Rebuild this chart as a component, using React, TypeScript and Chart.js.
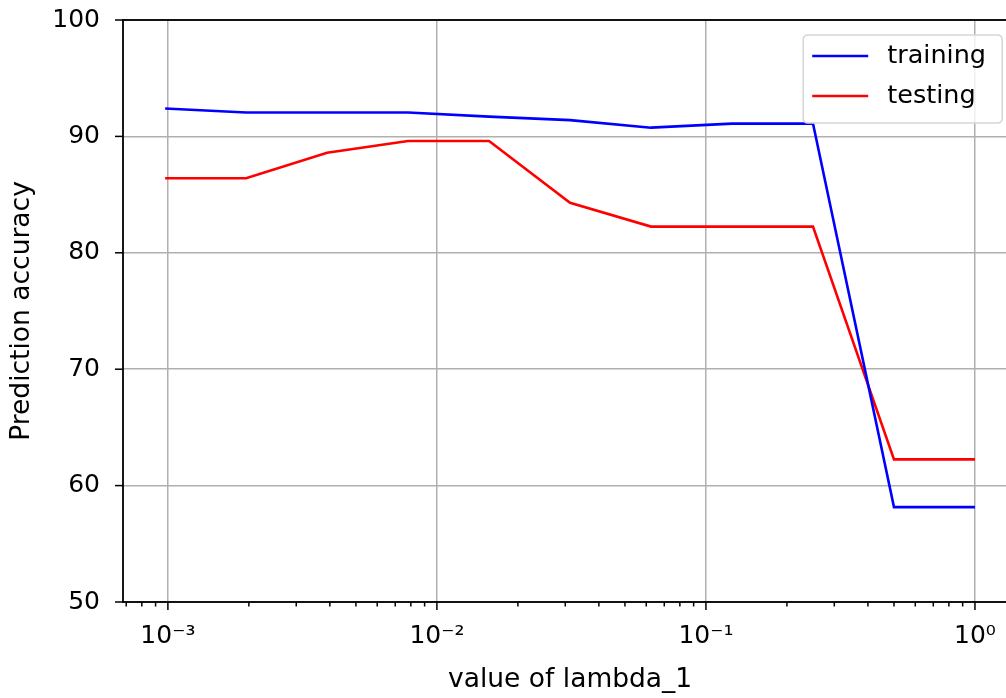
import React, { useEffect, useRef } from 'react';
import { Chart, registerables } from 'chart.js';

Chart.register(...registerables);

// ---- data ----
const lambdas = [0.0009765625, 0.001953125, 0.00390625, 0.0078125, 0.015625, 0.03125, 0.0625, 0.125, 0.25, 0.5, 1];
const training = [92.4, 92.05, 92.05, 92.05, 91.7, 91.4, 90.75, 91.1, 91.1, 58.15, 58.15];
const testing = [86.4, 86.4, 88.6, 89.6, 89.6, 84.3, 82.25, 82.25, 82.25, 62.25, 62.25];
const seriesNames = ['training', 'testing'];
const seriesColors = ['#0000ff', '#ff0000'];
const majorExponents = [-3, -2, -1, 0];
const xTickLabels = ['10⁻³', '10⁻²', '10⁻¹', '10⁰'];
const yTicks = [50, 60, 70, 80, 90, 100];
const xMin = 0.000681;
const xMax = 1.4355;
const yMin = 50;
const yMax = 100;

const CANVAS_W = 1040;
const CANVAS_H = 698;
const FONT = 'DejaVu Sans';
const FS = 25;
const TITLE_FS = 26.5;
const LEGEND_FS = 25.5;

function isMajor(v: number) {
  const l = Math.log10(v);
  return Math.abs(l - Math.round(l)) < 1e-9;
}

function zeroPad(s: any) {
  s.paddingTop = 0;
  s.paddingBottom = 0;
  s.paddingLeft = 0;
  s.paddingRight = 0;
}

function roundRectPath(ctx: CanvasRenderingContext2D, x: number, y: number, w: number, h: number, r: number) {
  ctx.beginPath();
  ctx.moveTo(x + r, y);
  ctx.lineTo(x + w - r, y);
  ctx.quadraticCurveTo(x + w, y, x + w, y + r);
  ctx.lineTo(x + w, y + h - r);
  ctx.quadraticCurveTo(x + w, y + h, x + w - r, y + h);
  ctx.lineTo(x + r, y + h);
  ctx.quadraticCurveTo(x, y + h, x, y + h - r);
  ctx.lineTo(x, y + r);
  ctx.quadraticCurveTo(x, y, x + r, y);
  ctx.closePath();
}

const framePlugin = {
  id: 'frame',
  afterDatasetsDraw(chart: any) {
    const { ctx, chartArea: a, scales } = chart;
    ctx.save();
    ctx.strokeStyle = '#000';
    ctx.lineWidth = 1.5;
    const xs = scales.x;
    xs.ticks.forEach((t: any) => {
      const px = xs.getPixelForValue(t.value);
      const len = isMajor(t.value) ? 8 : 4.5;
      ctx.beginPath();
      ctx.moveTo(px, a.bottom);
      ctx.lineTo(px, a.bottom + len);
      ctx.stroke();
    });
    const ys = scales.y;
    ys.ticks.forEach((t: any) => {
      const py = ys.getPixelForValue(t.value);
      ctx.beginPath();
      ctx.moveTo(a.left, py);
      ctx.lineTo(a.left - 8, py);
      ctx.stroke();
    });
    ctx.lineWidth = 1.8;
    ctx.strokeRect(a.left, a.top, a.right - a.left, a.bottom - a.top);
    ctx.restore();
  },
  afterDraw(chart: any) {
    const { ctx, chartArea: a } = chart;
    const w = 199;
    const h = 88;
    const x0 = a.right - 15 - w;
    const y0 = a.top + 15;
    ctx.save();
    roundRectPath(ctx, x0, y0, w, h, 5);
    ctx.fillStyle = 'rgba(255,255,255,0.8)';
    ctx.fill();
    ctx.strokeStyle = '#d6d6d6';
    ctx.lineWidth = 1.5;
    ctx.stroke();
    chart.data.datasets.forEach((ds: any, i: number) => {
      const cy = y0 + 21 + i * 40;
      ctx.beginPath();
      ctx.moveTo(x0 + 9, cy);
      ctx.lineTo(x0 + 65, cy);
      ctx.strokeStyle = ds.borderColor;
      ctx.lineWidth = 2.6;
      ctx.stroke();
      ctx.fillStyle = '#000';
      ctx.font = `${LEGEND_FS}px "${FONT}"`;
      ctx.textBaseline = 'middle';
      ctx.textAlign = 'left';
      ctx.fillText(ds.label, x0 + 84, cy);
    });
    ctx.restore();
  },
};

export default function App() {
  const ref = useRef<HTMLCanvasElement | null>(null);

  useEffect(() => {
    if (!ref.current) return;
    const chart = new Chart(ref.current, {
      type: 'line',
      data: {
        datasets: [
          {
            label: seriesNames[0],
            data: lambdas.map((x, i) => ({ x, y: training[i] })),
            borderColor: seriesColors[0],
            backgroundColor: seriesColors[0],
            borderWidth: 2.6,
            pointRadius: 0,
            tension: 0,
          },
          {
            label: seriesNames[1],
            data: lambdas.map((x, i) => ({ x, y: testing[i] })),
            borderColor: seriesColors[1],
            backgroundColor: seriesColors[1],
            borderWidth: 2.6,
            pointRadius: 0,
            tension: 0,
          },
        ],
      },
      options: {
        animation: false,
        responsive: false,
        devicePixelRatio: 1,
        layout: { padding: { left: 0, top: 20, right: CANVAS_W - 1017.2, bottom: 0 } },
        plugins: { legend: { display: false }, tooltip: { enabled: false } },
        scales: {
          x: {
            type: 'logarithmic',
            min: xMin,
            max: xMax,
            bounds: 'data',
            afterFit: (s: any) => { s.height = 96; zeroPad(s); },
            afterBuildTicks: (s: any) => {
              const ticks: any[] = [];
              for (let e = -4; e <= 0; e++) {
                for (let m = 1; m <= 9; m++) {
                  const v = m * Math.pow(10, e);
                  if (v >= xMin && v <= xMax) ticks.push({ value: v, major: m === 1 });
                }
              }
              s.ticks = ticks;
            },
            border: { display: false },
            grid: {
              drawTicks: false,
              color: (c: any) => (c.tick && isMajor(c.tick.value) ? '#b0b0b0' : 'rgba(0,0,0,0)'),
              lineWidth: 1.5,
            },
            ticks: {
              autoSkip: false,
              maxRotation: 0,
              minRotation: 0,
              padding: 19,
              color: '#000',
              font: { family: FONT, size: FS },
              callback: (v: any) => {
                const val = Number(v);
                if (!isMajor(val)) return '';
                const e = Math.round(Math.log10(val));
                const idx = majorExponents.indexOf(e);
                return idx >= 0 ? xTickLabels[idx] : '';
              },
            },
            title: {
              display: true,
              text: 'value of lambda_1',
              color: '#000',
              font: { family: FONT, size: TITLE_FS },
              padding: { top: 0, bottom: 2 },
            },
          },
          y: {
            type: 'linear',
            min: yMin,
            max: yMax,
            afterFit: (s: any) => { s.width = 123; zeroPad(s); },
            afterBuildTicks: (s: any) => { s.ticks = yTicks.map((v) => ({ value: v })); },
            border: { display: false },
            grid: { drawTicks: false, color: '#b0b0b0', lineWidth: 1.5 },
            ticks: {
              padding: 23,
              color: '#000',
              font: { family: FONT, size: FS },
              callback: (v: any) => String(v),
            },
            title: {
              display: true,
              text: 'Prediction accuracy',
              color: '#000',
              font: { family: FONT, size: TITLE_FS },
              padding: { top: 6, bottom: 0 },
            },
          },
        },
      },
      plugins: [framePlugin],
    } as any);
    return () => chart.destroy();
  }, []);

  return (
    <div style={{ position: 'absolute', left: 0, top: 0, width: 1006, height: 698, overflow: 'hidden', background: '#fff' }}>
      <canvas ref={ref} width={CANVAS_W} height={CANVAS_H} style={{ width: CANVAS_W, height: CANVAS_H, display: 'block' }} />
    </div>
  );
}
